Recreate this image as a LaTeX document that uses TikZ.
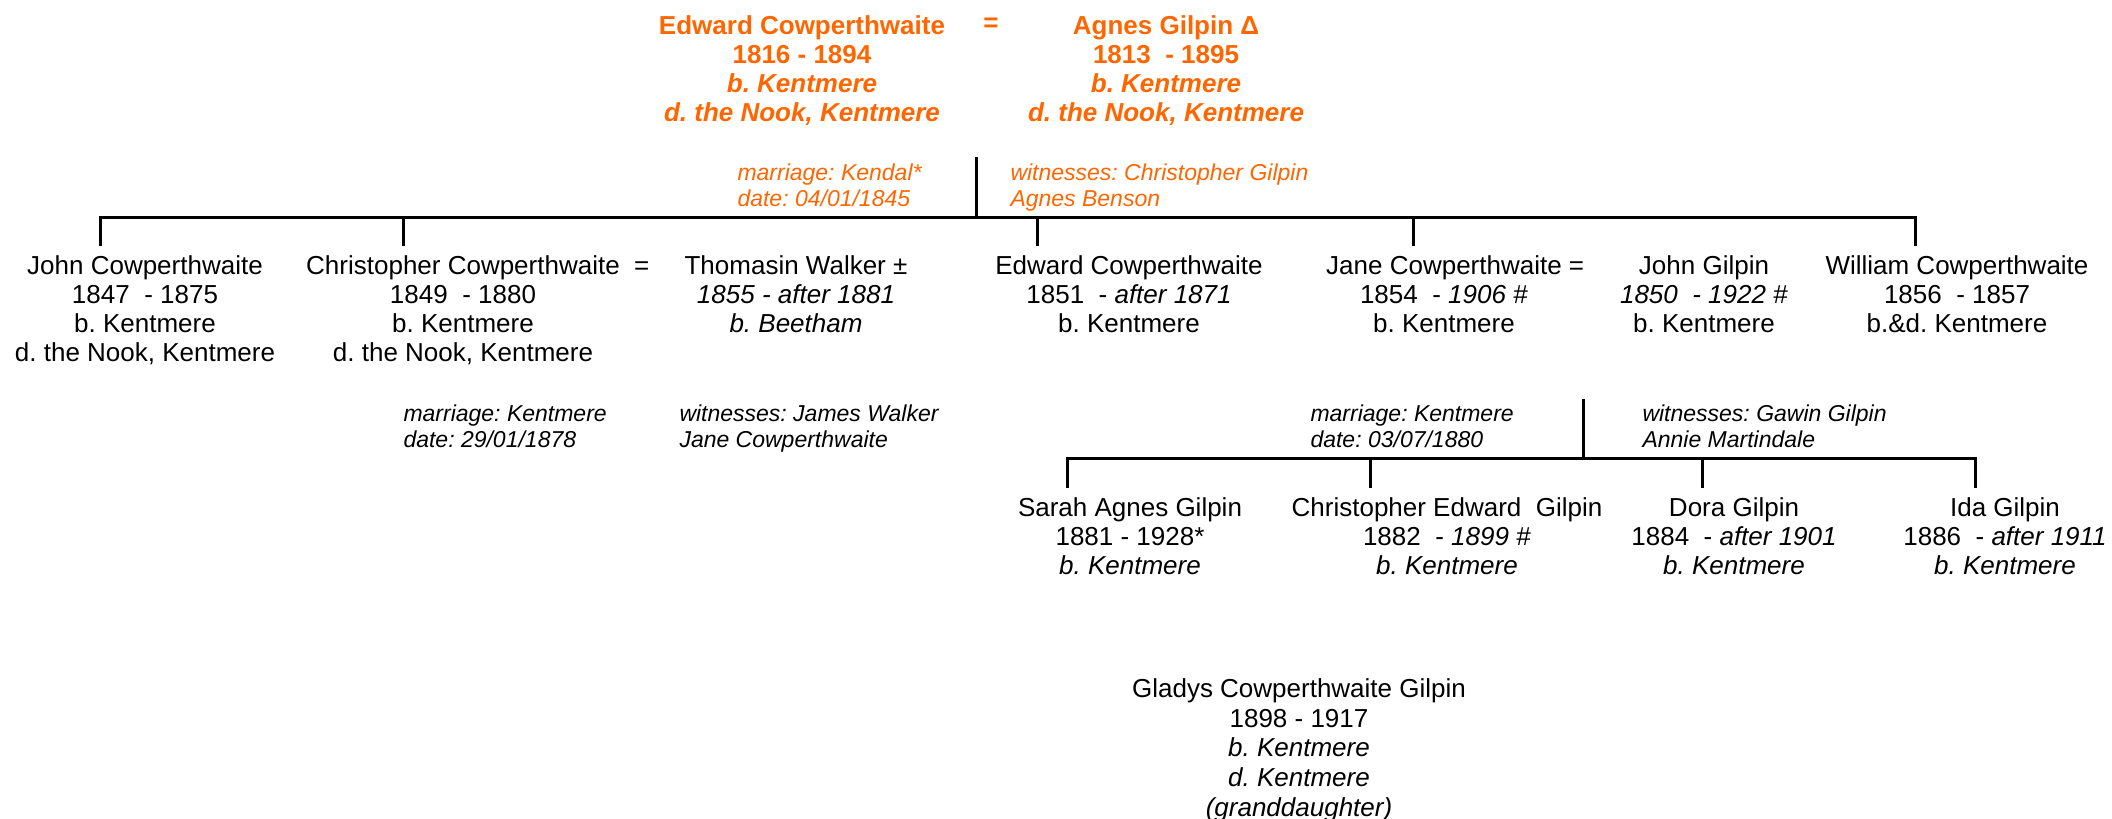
\documentclass[tikz,border=0pt]{standalone}
\usepackage{fontspec}
\setmainfont{Liberation Sans}
\usepackage{tikz}
\definecolor{kin}{RGB}{255,102,0}
\newcommand{\fsz}[2]{\fontsize{#1}{#2}\selectfont}
\frenchspacing

\begin{document}
\begin{tikzpicture}[x=1pt, y=-1pt, line width=3pt,
  person/.style={align=center, inner sep=0pt, anchor=north, font=\fsz{26}{29}},
  elder/.style={person, text=kin, font=\fsz{26}{29}\bfseries},
  note/.style={align=left, inner sep=0pt, anchor=north west, font=\fsz{23}{26.5}\itshape}]
  \useasboundingbox (0,0) rectangle (2112,819);

  % first generation
  \node[elder] (edward) at (802,14) {Edward Cowperthwaite\\1816 - 1894\\\textit{b. Kentmere}\\\textit{d. the Nook, Kentmere}};
  \node[elder] (eqa) at (991,16) {=};
  \node[elder] (agnes) at (1166,14) {Agnes Gilpin Δ\\1813~ - 1895\\\textit{b. Kentmere}\\\textit{d. the Nook, Kentmere}};
  \node[note, text=kin] (marra) at (736,162) {marriage: Kendal*\\date: 04/01/1845};
  \node[note, text=kin] (witna) at (1009,162) {witnesses: Christopher Gilpin\\Agnes Benson};

  % children
  \node[person] (john) at (145,254) {John Cowperthwaite\\1847~ - 1875\\b. Kentmere\\d. the Nook, Kentmere};
  \node[person] (chris) at (463,254) {Christopher Cowperthwaite\rlap{~~=}\\1849~ - 1880\\b. Kentmere\\d. the Nook, Kentmere};
  \node[person] (thomasin) at (796,254) {Thomasin Walker ±\\\textit{1855 - after 1881}\\\textit{b. Beetham}};
  \node[person] (edjr) at (1129,254) {Edward Cowperthwaite\\1851~ - \textit{after 1871}\\b. Kentmere};
  \node[person] (jane) at (1444,254) {Jane Cowperthwaite\rlap{ =}\\1854~ - \textit{1906 \#}\\b. Kentmere};
  \node[person] (jgilpin) at (1704,254) {John Gilpin\\\textit{1850~ - 1922 \#}\\b. Kentmere};
  \node[person] (william) at (1957,254) {William Cowperthwaite\\1856~ - 1857\\b.\&d. Kentmere};
  \node[note] (marrb) at (402,403) {marriage: Kentmere\\date: 29/01/1878};
  \node[note] (witnb) at (678,403) {witnesses: James Walker\\Jane Cowperthwaite};
  \node[note] (marrc) at (1309,403) {marriage: Kentmere\\date: 03/07/1880};
  \node[note] (witnc) at (1641,403) {witnesses: Gawin Gilpin\\Annie Martindale};

  % grandchildren
  \node[person] (sarah) at (1130,496) {Sarah Agnes Gilpin\\1881 - 1928*\\\textit{b. Kentmere}};
  \node[person] (chred) at (1447,496) {Christopher Edward~ Gilpin\\1882~ - \textit{1899 \#}\\\textit{b. Kentmere}};
  \node[person] (dora) at (1734,496) {Dora Gilpin\\1884~ - \textit{after 1901}\\\textit{b. Kentmere}};
  \node[person] (ida) at (2005,496) {Ida Gilpin\\1886~ - \textit{after 1911}\\\textit{b. Kentmere}};
  \node[person, font=\fsz{26}{29.8}] (gladys) at (1299,677) {Gladys Cowperthwaite Gilpin\\1898 - 1917\\\textit{b. Kentmere}\\\textit{d. Kentmere}\\\textit{(granddaughter)}};

  % lines of descent
  \coordinate (wedA) at (976,157);
  \coordinate (barA) at (976,217);
  \coordinate (wedC) at (1583,399);
  \coordinate (barC) at (1583,458);
  \draw (wedA) -- (barA);
  \draw (100,246) -- (100,217) -- (1915,217) -- (1915,246);
  \foreach \x in {403,1037,1413} \draw (\x,217) -- (\x,246);
  \draw (wedC) -- (barC);
  \draw (1067,488) -- (1067,458) -- (1975,458) -- (1975,488);
  \foreach \x in {1370,1702} \draw (\x,458) -- (\x,488);
\end{tikzpicture}
\end{document}
